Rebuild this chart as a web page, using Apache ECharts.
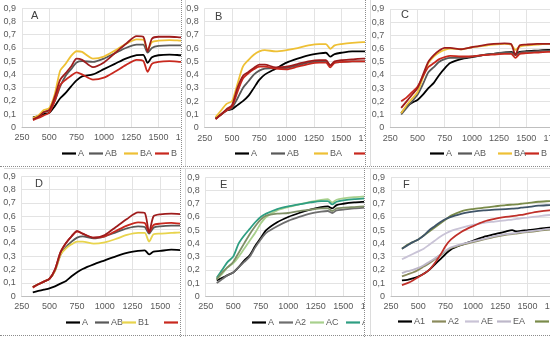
<!DOCTYPE html>
<html><head><meta charset="utf-8">
<script src="https://cdn.jsdelivr.net/npm/echarts@6/dist/echarts.min.js"></script>
<style>
html,body{margin:0;padding:0;background:#fff;width:550px;height:337px;overflow:hidden;position:relative;}
.panel{position:absolute;overflow:hidden;background:#fff;}
.chart{position:absolute;left:0;top:0;width:300px;}
.ln{position:absolute;}
</style></head><body>
<div class="panel" id="pA" style="left:0;top:0;width:181px;height:166px;"><div class="chart" id="cA" style="height:166px"></div></div>
<div class="panel" id="pB" style="left:183px;top:0;width:182px;height:166px;"><div class="chart" id="cB" style="height:166px"></div></div>
<div class="panel" id="pC" style="left:368px;top:0;width:182px;height:166px;"><div class="chart" id="cC" style="height:166px"></div></div>
<div class="panel" id="pD" style="left:0;top:168px;width:180px;height:167px;"><div class="chart" id="cD" style="height:167px"></div></div>
<div class="panel" id="pE" style="left:183px;top:168px;width:181px;height:167px;"><div class="chart" id="cE" style="height:167px"></div></div>
<div class="panel" id="pF" style="left:366px;top:168px;width:184px;height:167px;"><div class="chart" id="cF" style="height:167px"></div></div>
<!-- separators -->
<div class="ln" style="left:181px;top:0;width:0;height:167px;border-left:1px dotted #8c8c8c"></div>
<div class="ln" style="left:365px;top:0;width:0;height:167px;border-left:1px dotted #8c8c8c"></div>
<div class="ln" style="left:0;top:166px;width:550px;height:0;border-top:1px dotted #8c8c8c"></div>
<div class="ln" style="left:185px;top:0;width:0;height:166px;border-left:1px solid #dcdcdc"></div>
<div class="ln" style="left:370px;top:0;width:0;height:166px;border-left:1px solid #dcdcdc"></div>
<div class="ln" style="left:4px;top:168px;width:546px;height:0;border-top:1px solid #dcdcdc"></div>
<div class="ln" style="left:180px;top:168px;width:0;height:169px;border-left:1px dotted #8c8c8c"></div>
<div class="ln" style="left:364px;top:168px;width:0;height:169px;border-left:1px dotted #8c8c8c"></div>
<div class="ln" style="left:185px;top:168px;width:0;height:169px;border-left:1px solid #dcdcdc"></div>
<div class="ln" style="left:370px;top:168px;width:0;height:169px;border-left:1px solid #dcdcdc"></div>
<div class="ln" style="left:0;top:335px;width:550px;height:0;border-top:1px dotted #8c8c8c"></div>
<script>
// wavelengths (nm)
const wavelengths = [350,400,450,500,550,600,650,700,750,800,900,1000,1100,1200,1300,1360,1400,1440,1500,1600,1700,1800];
// tick labels
const yTicks = [0,0.1,0.2,0.3,0.4,0.5,0.6,0.7,0.8,0.9];
const xTicks = [250,500,750,1000,1250,1500,1750,2000,2250,2500];

// Panel A
const a_A  = [.075,.085,.10,.11,.16,.22,.26,.31,.355,.385,.40,.44,.48,.52,.545,.548,.488,.53,.545,.55,.545,.54];
const a_AB = [.065,.08,.115,.13,.20,.31,.39,.44,.49,.50,.495,.52,.56,.60,.625,.625,.565,.60,.615,.62,.62,.62];
const a_BA = [.07,.09,.13,.145,.25,.43,.48,.54,.575,.57,.52,.535,.58,.63,.665,.663,.585,.645,.655,.66,.655,.65];
const a_B  = [.055,.07,.09,.11,.20,.32,.36,.39,.415,.40,.36,.375,.42,.47,.51,.503,.42,.48,.495,.50,.495,.49];
const a_B2 = [.06,.08,.115,.13,.23,.36,.41,.46,.52,.51,.455,.49,.56,.63,.69,.685,.575,.67,.685,.685,.68,.675];
// Panel B
const b_A  = [.07,.10,.13,.14,.17,.20,.24,.30,.36,.40,.445,.49,.52,.545,.56,.565,.535,.555,.565,.575,.575,.575];
const b_AB = [.07,.10,.13,.15,.22,.30,.35,.40,.43,.445,.45,.45,.47,.49,.50,.50,.47,.49,.495,.50,.50,.50];
const b_BA = [.08,.13,.18,.20,.33,.46,.51,.55,.575,.585,.575,.585,.60,.62,.63,.63,.595,.62,.63,.64,.645,.645];
const b_B  = [.065,.10,.13,.16,.27,.37,.41,.44,.46,.46,.445,.44,.46,.48,.49,.49,.455,.49,.495,.50,.50,.50];
const b_B2 = [.065,.10,.14,.17,.30,.39,.42,.45,.475,.475,.455,.46,.48,.50,.51,.51,.47,.50,.51,.515,.52,.52];
// Panel C
const c_A  = [.11,.16,.19,.21,.25,.30,.34,.40,.45,.49,.52,.535,.55,.56,.57,.575,.56,.575,.58,.585,.59,.59];
const c_AB = [.10,.15,.20,.25,.33,.42,.46,.50,.52,.53,.53,.54,.55,.56,.57,.57,.55,.57,.575,.58,.585,.585];
const c_BA = [.11,.17,.22,.27,.38,.49,.54,.57,.59,.60,.595,.61,.62,.63,.635,.63,.59,.615,.625,.63,.635,.635];
const c_B  = [.20,.23,.27,.31,.39,.46,.49,.52,.535,.545,.54,.54,.55,.555,.56,.56,.53,.56,.565,.57,.575,.575];
const c_B2 = [.15,.20,.25,.30,.40,.50,.55,.585,.605,.605,.595,.61,.625,.635,.64,.635,.55,.625,.63,.635,.635,.635];
// Panel D
const d_A  = [.03,.04,.05,.06,.075,.095,.115,.15,.18,.205,.24,.27,.30,.325,.34,.345,.315,.335,.34,.35,.345,.345];
const d_AB = [.07,.09,.11,.13,.19,.31,.37,.41,.44,.45,.435,.45,.48,.51,.525,.52,.47,.515,.525,.53,.53,.53];
const d_B1 = [.07,.09,.11,.13,.19,.31,.36,.39,.41,.41,.395,.405,.43,.46,.475,.475,.41,.465,.47,.475,.48,.48];
const d_B  = [.065,.09,.11,.13,.20,.33,.40,.45,.485,.47,.44,.45,.49,.53,.555,.55,.48,.535,.545,.55,.545,.545];
const d_B2 = [.07,.09,.11,.13,.20,.33,.40,.45,.49,.47,.44,.46,.52,.58,.63,.625,.48,.60,.615,.62,.615,.615];
// Panel E
const e_A  = [.12,.14,.16,.18,.22,.27,.31,.38,.44,.50,.56,.60,.63,.655,.675,.68,.665,.69,.70,.71,.715,.72];
const e_A2 = [.10,.13,.16,.18,.22,.26,.30,.37,.43,.48,.53,.57,.60,.625,.64,.645,.63,.65,.655,.665,.67,.675];
const e_AC = [.13,.17,.22,.25,.30,.36,.42,.48,.55,.60,.65,.675,.695,.715,.73,.735,.71,.73,.74,.75,.755,.76];
const e_AD = [.14,.20,.26,.30,.40,.46,.51,.56,.60,.625,.66,.68,.695,.71,.72,.72,.695,.715,.725,.735,.74,.745];
const e_AE = [.13,.18,.22,.26,.33,.40,.47,.53,.58,.61,.625,.63,.645,.655,.665,.665,.645,.665,.67,.675,.68,.685];
// Panel F
const f_A1 = [.12,.125,.135,.15,.17,.20,.24,.28,.32,.355,.39,.42,.45,.47,.49,.50,.49,.495,.50,.51,.52,.525];
const f_A2 = [.15,.165,.18,.20,.225,.25,.28,.31,.34,.365,.39,.41,.43,.45,.465,.47,.475,.48,.485,.495,.505,.51];
const f_AE = [.28,.30,.32,.34,.36,.39,.42,.45,.475,.495,.52,.54,.555,.565,.575,.58,.585,.59,.595,.605,.615,.62];
const f_EA = [.175,.19,.20,.215,.235,.26,.285,.315,.345,.37,.395,.415,.435,.455,.47,.475,.48,.485,.49,.50,.51,.515];
const f_E  = [.36,.39,.41,.43,.46,.49,.52,.55,.58,.61,.645,.66,.67,.68,.69,.693,.695,.70,.705,.715,.72,.725];
const f_R  = [.085,.10,.12,.145,.17,.20,.25,.31,.38,.43,.49,.53,.565,.585,.60,.607,.61,.615,.625,.64,.65,.655];
const f_C  = [.36,.385,.41,.43,.46,.50,.53,.56,.585,.60,.625,.64,.65,.655,.66,.663,.665,.67,.675,.685,.69,.695];

const FONT = 'Liberation Sans';
const LBL = '#595959';

function build(elId, cfg){
  const chart = echarts.init(document.getElementById(elId), null, {renderer:'canvas'});
  const series = cfg.series.map(s => ({
    name: s.name, type:'line', showSymbol:false, smooth:0.25,
    data: wavelengths.map((w,i)=>[w, s.data[i]]),
    lineStyle:{color:s.color, width:1.8}, itemStyle:{color:s.color},
    z: s.z || 2
  }));
  const legends = cfg.legend.map(l => ({
    data:[l.name], left:l.x - 1, top:l.y, icon:'rect', itemWidth:14, itemHeight:2.2,
    itemGap:0, padding:0, textStyle:{color:LBL, fontSize:9, fontFamily:FONT, padding:[0,0,0,-3]}
  }));
  chart.setOption({
    animation:false,
    title:{text:cfg.title, left:cfg.tx, top:cfg.ty, padding:0,
      textStyle:{fontSize:11, fontWeight:'normal', color:'#404040', fontFamily:FONT}},
    grid:{left:cfg.gl, top:cfg.gt, width:cfg.pp*9, height:cfg.gh, containLabel:false},
    legend: legends,
    xAxis:{type:'value', min:xTicks[0], max:xTicks[xTicks.length-1], interval:250,
      axisLine:{show:true, lineStyle:{color:'#bfbfbf'}}, axisTick:{show:false},
      splitLine:{show:true, lineStyle:{color:'#e3e3e3'}},
      axisLabel:{color:LBL, fontSize:9, fontFamily:FONT, margin:6, formatter:v => String(v)}},
    yAxis:{type:'value', min:0, max:yTicks[yTicks.length-1], interval:0.1,
      axisLine:{show:false}, axisTick:{show:false},
      splitLine:{show:true, lineStyle:{color:'#e3e3e3'}},
      axisLabel:{color:LBL, fontSize:9, fontFamily:FONT, margin:6,
        formatter:v => v===0 ? '0' : v.toFixed(1).replace('.', ',')}},
    series
  });
}

build('cA', {title:'A', tx:31, ty:10, gl:22, gt:8.3, gh:119, pp:27.3,
  series:[{name:'A',data:a_A,color:'#000000'},{name:'AB',data:a_AB,color:'#595959'},
          {name:'BA',data:a_BA,color:'#EEC035'},{name:'B',data:a_B,color:'#C8281E'},
          {name:'B2',data:a_B2,color:'#9E1C1C'}],
  legend:[{name:'A',x:63,y:149},{name:'AB',x:90,y:149},{name:'BA',x:125,y:149},{name:'B',x:156,y:149},{name:'B2',x:195,y:149}]});
build('cB', {title:'B', tx:32, ty:11, gl:21.7, gt:8.3, gh:119.4, pp:27.3,
  series:[{name:'A',data:b_A,color:'#000000'},{name:'AB',data:b_AB,color:'#595959'},
          {name:'BA',data:b_BA,color:'#EEC035'},{name:'B',data:b_B,color:'#C8281E'},
          {name:'B2',data:b_B2,color:'#9E1C1C'}],
  legend:[{name:'A',x:53,y:149},{name:'AB',x:89,y:149},{name:'BA',x:132,y:149},{name:'B',x:172,y:149},{name:'B2',x:215,y:149}]});
build('cC', {title:'C', tx:33, ty:9, gl:22.3, gt:9, gh:118.7, pp:27.2,
  series:[{name:'A',data:c_A,color:'#000000'},{name:'AB',data:c_AB,color:'#595959'},
          {name:'BA',data:c_BA,color:'#EEC035'},{name:'B',data:c_B,color:'#C8281E'},
          {name:'B2',data:c_B2,color:'#9E1C1C'}],
  legend:[{name:'A',x:63,y:149},{name:'AB',x:91,y:149},{name:'BA',x:131,y:149},{name:'B',x:158,y:149},{name:'B2',x:200,y:149}]});
build('cD', {title:'D', tx:35, ty:10, gl:21.7, gt:8.3, gh:120, pp:27.7,
  series:[{name:'A',data:d_A,color:'#000000'},{name:'AB',data:d_AB,color:'#595959'},
          {name:'B1',data:d_B1,color:'#E8D44D'},{name:'B',data:d_B,color:'#C8281E'},
          {name:'B2',data:d_B2,color:'#9E1C1C'}],
  legend:[{name:'A',x:67,y:150},{name:'AB',x:96,y:150},{name:'B1',x:123,y:150},{name:'B',x:165,y:150},{name:'B2',x:200,y:150}]});
build('cE', {title:'E', tx:37, ty:11, gl:22.7, gt:9.3, gh:119, pp:27.5,
  series:[{name:'A',data:e_A,color:'#000000'},{name:'A2',data:e_A2,color:'#6E6E6E'},
          {name:'AC',data:e_AC,color:'#A8D08D'},{name:'AD',data:e_AD,color:'#2E9E82'},
          {name:'AE',data:e_AE,color:'#7F8F66'}],
  legend:[{name:'A',x:70,y:150},{name:'A2',x:97,y:150},{name:'AC',x:128,y:150},{name:'AD',x:164,y:150},{name:'AE',x:200,y:150}]});
build('cF', {title:'F', tx:37, ty:11, gl:25, gt:9.3, gh:119, pp:27.3,
  series:[{name:'A1',data:f_A1,color:'#000000'},{name:'A2',data:f_A2,color:'#8A8A5C'},
          {name:'AE',data:f_AE,color:'#C9C3D6'},{name:'EA',data:f_EA,color:'#BDB7C9'},
          {name:'E',data:f_E,color:'#7A8B4A'},{name:'R',data:f_R,color:'#C0302A'},
          {name:'C',data:f_C,color:'#3F5468'}],
  legend:[{name:'A1',x:33,y:149},{name:'A2',x:67,y:149},{name:'AE',x:100,y:149},{name:'EA',x:132,y:149},{name:'E',x:170,y:149},{name:'R',x:200,y:149},{name:'C',x:230,y:149}]});
</script>
</body></html>
